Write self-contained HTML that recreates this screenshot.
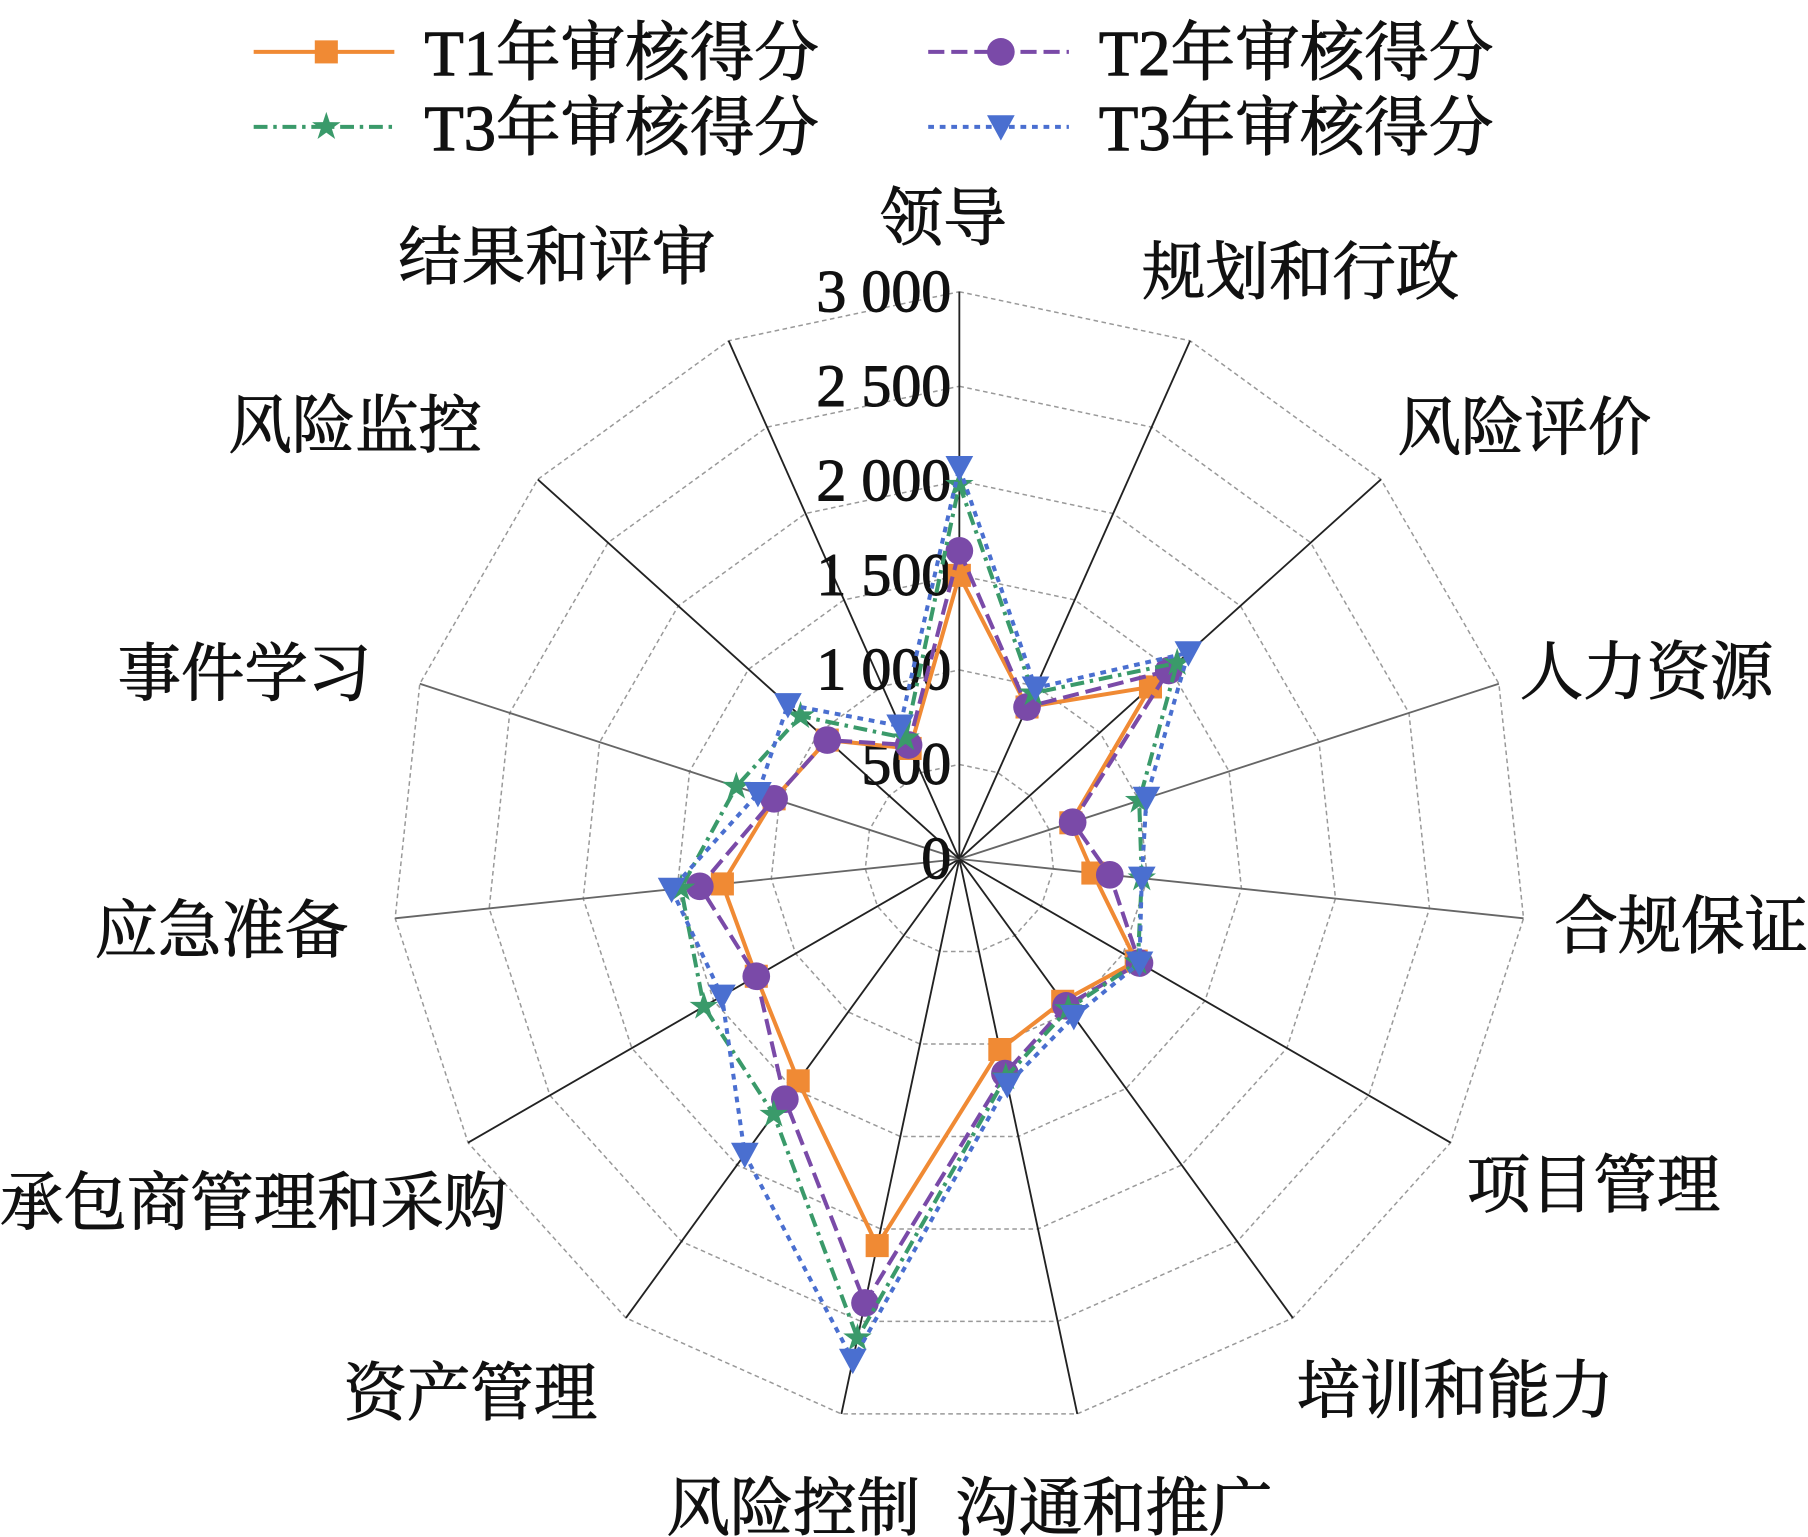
<!DOCTYPE html>
<html><head><meta charset="utf-8"><style>
html,body{margin:0;padding:0;background:#fff;}
svg{display:block;}
text{font-family:"Liberation Serif","Noto Serif CJK SC",serif;fill:#111;stroke:#111;stroke-width:0.9;}
</style></head><body>
<svg id="s" width="1808" height="1537" viewBox="0 0 1568 1333" preserveAspectRatio="none" xmlns="http://www.w3.org/2000/svg">
<g id="grid"></g>
<g id="series"></g>
<g id="labels" font-size="55"></g>
<g id="legend" font-size="56"></g>
</svg>
<script>
var NS="http://www.w3.org/2000/svg",cx=832,cy=745,R=492,N=15;
function el(t,a,p){var e=document.createElementNS(NS,t);for(var k in a)e.setAttribute(k,a[k]);(p||document.getElementById('s')).appendChild(e);return e;}
function pt(i,v){var a=i*2*Math.PI/N,r=v/3000*R;return [cx+r*Math.sin(a),cy-r*Math.cos(a)];}
var g=document.getElementById('grid');
for(var l=1;l<=6;l++){var ps=[];for(var i=0;i<N;i++)ps.push(pt(i,l*500).join(','));
el('polygon',{points:ps.join(' '),fill:'none',stroke:'#999','stroke-width':1.3,'stroke-dasharray':'4,3'},g);}
for(var i=0;i<N;i++){var p=pt(i,3000);el('line',{x1:cx,y1:cy,x2:p[0],y2:p[1],stroke:(i==3||i==4||i==11||i==12)?'#666':'#222','stroke-width':1.6},g);}
var ticks=['0','500','1 000','1 500','2 000','2 500','3 000'];
for(var k=0;k<7;k++){var t=el('text',{x:825,y:cy-k*82+17,'text-anchor':'end','font-size':52},g);t.textContent=ticks[k];}
var data=[
{c:'#f08a34',d:'',m:'sq',v:[1500,880,1360,620,710,1080,930,1030,2090,1450,1240,1260,1030,940,640]},
{c:'#7a4aa8',d:'14,6',m:'ci',v:[1630,880,1490,630,800,1100,960,1160,2400,1570,1240,1380,1030,940,660]},
{c:'#3a9a6a',d:'12,5,3,5',m:'st',v:[1980,960,1550,1000,970,1090,980,1180,2590,1670,1560,1480,1240,1130,700]},
{c:'#4a6fd0',d:'5,5',m:'tr',v:[2070,990,1630,1040,970,1100,1030,1220,2710,1930,1450,1530,1120,1220,770]}];
var sg=document.getElementById('series');
function marker(m,x,y,c,p){
 if(m=='sq')el('rect',{x:x-10,y:y-10,width:20,height:20,fill:c},p);
 else if(m=='ci')el('circle',{cx:x,cy:y,r:12,fill:c},p);
 else if(m=='st'){var s=[];for(var j=0;j<10;j++){var r=j%2?5:13,a=j*Math.PI/5;s.push((x+r*Math.sin(a))+','+(y-r*Math.cos(a)));}el('polygon',{points:s.join(' '),fill:c},p);}
 else el('polygon',{points:(x-12)+','+(y-10)+' '+(x+12)+','+(y-10)+' '+x+','+(y+12),fill:c},p);}
data.forEach(function(s){var ps=s.v.map(function(v,i){return pt(i,v);});
 el('polygon',{points:ps.map(function(p){return p.join(',')}).join(' '),fill:'none',stroke:s.c,'stroke-width':3.5,'stroke-dasharray':s.d},sg);
 ps.forEach(function(p){marker(s.m,p[0],p[1],s.c,sg);});});
var L=[['领导',818,188],['规划和行政',1128,235],['风险评价',1322,370],['人力资源',1428,582],['合规保证',1458,802],['项目管理',1382,1027],['培训和能力',1262,1205],['沟通和推广',966,1307],['风险控制',688,1307],['资产管理',408,1207],['承包商管理和采购',220,1042],['应急准备',192,806],['事件学习',212,583],['风险监控',308,368],['结果和评审',483,222]];
var lg=document.getElementById('labels');
L.forEach(function(a){var t=el('text',{x:a[1],y:a[2]+20,'text-anchor':'middle'},lg);t.textContent=a[0];});
var lgd=document.getElementById('legend');
[[220,45,0,'T1年审核得分'],[805,45,1,'T2年审核得分'],[220,110,2,'T3年审核得分'],[805,110,3,'T3年审核得分']].forEach(function(a){
 var s=data[a[2]];el('line',{x1:a[0],y1:a[1],x2:a[0]+122,y2:a[1],stroke:s.c,'stroke-width':3.5,'stroke-dasharray':s.d},lgd);
 marker(s.m,a[0]+63,a[1],s.c,lgd);
 var t=el('text',{x:a[0]+148,y:a[1]+20},lgd);t.textContent=a[3];});
</script>
</body></html>
